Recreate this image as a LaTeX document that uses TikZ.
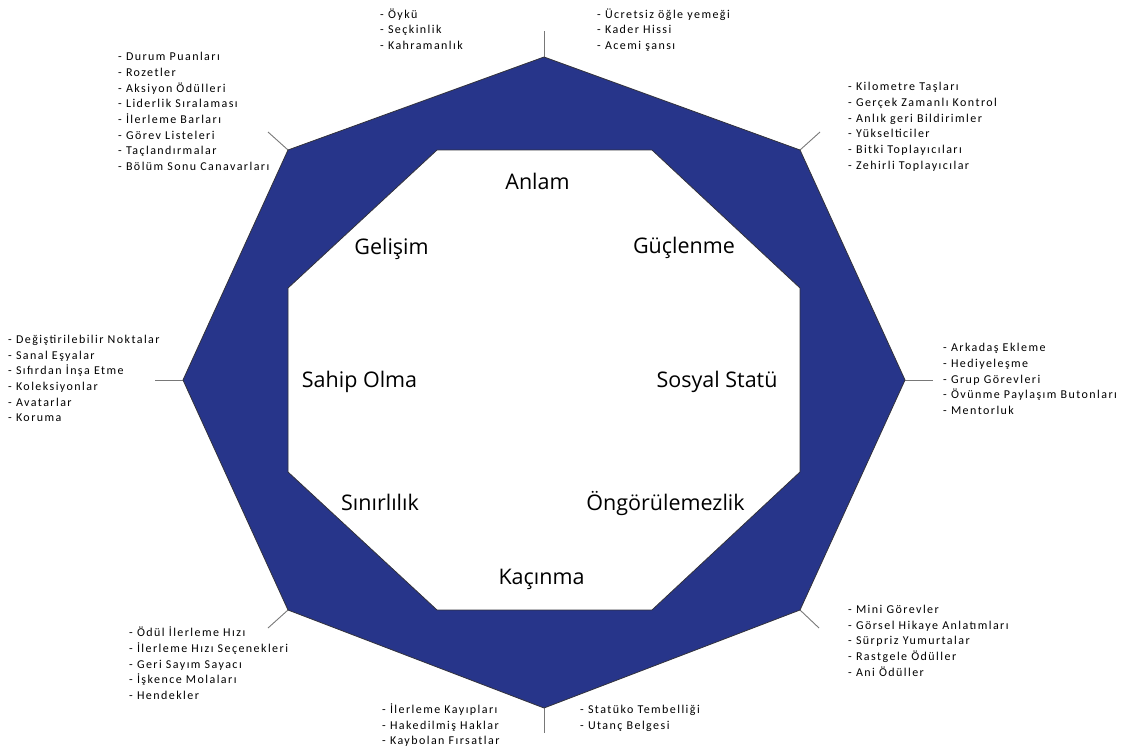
\documentclass[tikz,border=0pt]{standalone}
\usepackage{fontspec}
\setmainfont{Carlito}
\newfontfamily\labelfont{Open Sans}
\definecolor{octblue}{RGB}{39,53,138}
\definecolor{tickgray}{RGB}{120,120,120}
\definecolor{edgegray}{RGB}{50,50,60}
\begin{document}
\begin{tikzpicture}[x=1pt,y=-1pt,
  listtext/.style={anchor=north west, inner sep=0pt, align=left,
    font=\fontsize{12}{15.65}\selectfont\addfontfeature{LetterSpace=12}},
  biglabel/.style={anchor=base, inner sep=0pt, font=\labelfont\fontsize{21.5}{24}\selectfont},
  tickline/.style={draw=tickgray, line width=0.9pt},
  ring/.style={fill=octblue, draw=edgegray, line width=0.8pt, even odd rule}]
\useasboundingbox (0,0) rectangle (1132,751);
% outer vertices
\coordinate (oT)  at (544,57);
\coordinate (oTR) at (800,150);
\coordinate (oR)  at (905,380);
\coordinate (oBR) at (800,610);
\coordinate (oB)  at (544,708);
\coordinate (oBL) at (288,610);
\coordinate (oL)  at (183,380);
\coordinate (oTL) at (288,150);
% inner vertices
\coordinate (i1) at (437,150);
\coordinate (i2) at (652,150);
\coordinate (i3) at (800,288);
\coordinate (i4) at (800,472);
\coordinate (i5) at (652,610);
\coordinate (i6) at (437,610);
\coordinate (i7) at (288,472);
\coordinate (i8) at (288,288);
% tick ends
\coordinate (tT)  at (544,31);
\coordinate (tTR) at (820,132);
\coordinate (tR)  at (933,380);
\coordinate (tBR) at (819,628);
\coordinate (tB)  at (544,733);
\coordinate (tBL) at (268,628);
\coordinate (tL)  at (155,380);
\coordinate (tTL) at (268,132);

\draw[tickline] (oT) -- (tT);
\draw[tickline] (oTR) -- (tTR);
\draw[tickline] (oR) -- (tR);
\draw[tickline] (oBR) -- (tBR);
\draw[tickline] (oB) -- (tB);
\draw[tickline] (oBL) -- (tBL);
\draw[tickline] (oL) -- (tL);
\draw[tickline] (oTL) -- (tTL);

\path[ring] (oT) -- (oTR) -- (oR) -- (oBR) -- (oB) -- (oBL) -- (oL) -- (oTL) -- cycle
  (i1) -- (i2) -- (i3) -- (i4) -- (i5) -- (i6) -- (i7) -- (i8) -- cycle;

% main labels
\node[biglabel] (anlam) at (537.5,189.5) {Anlam};
\node[biglabel] (gelisim) at (391.5,255) {Gelişim};
\node[biglabel] (guclenme) at (684,253.5) {Güçlenme};
\node[biglabel] (sahip) at (359.5,387.5) {Sahip Olma};
\node[biglabel] (sosyal) at (717,387.5) {Sosyal Statü};
\node[biglabel] (sinir) at (380,510.5) {Sınırlılık};
\node[biglabel] (ongoru) at (665.5,510.5) {Öngörülemezlik};
\node[biglabel] (kacinma) at (541.5,584.5) {Kaçınma};

% lists
\node[listtext] (l1) at (380,7) {\strut- Öykü\\- Seçkinlik\\- Kahramanlık};
\node[listtext] (l2) at (597,7) {\strut- Ücretsiz öğle yemeği\\- Kader Hissi\\- Acemi şansı};
\node[listtext] (l3) at (118,49.7) {\strut- Durum Puanları\\- Rozetler\\- Aksiyon Ödülleri\\- Liderlik Sıralaması\\- İlerleme Barları\\- Görev Listeleri\\- Taçlandırmalar\\- Bölüm Sonu Canavarları};
\node[listtext] (l4) at (848,79.7) {\strut- Kilometre Taşları\\- Gerçek Zamanlı Kontrol\\- Anlık geri Bildirimler\\- Yükselticiler\\- Bitki Toplayıcıları\\- Zehirli Toplayıcılar};
\node[listtext] (l5) at (8,332.3) {\strut- Değiştirilebilir Noktalar\\- Sanal Eşyalar\\- Sıfırdan İnşa Etme\\- Koleksiyonlar\\- Avatarlar\\- Koruma};
\node[listtext] (l6) at (943,340.7) {\strut- Arkadaş Ekleme\\- Hediyeleşme\\- Grup Görevleri\\- Övünme Paylaşım Butonları\\- Mentorluk};
\node[listtext] (l7) at (129,625.7) {\strut- Ödül İlerleme Hızı\\- İlerleme Hızı Seçenekleri\\- Geri Sayım Sayacı\\- İşkence Molaları\\- Hendekler};
\node[listtext] (l8) at (848,602.3) {\strut- Mini Görevler\\- Görsel Hikaye Anlatımları\\- Sürpriz Yumurtalar\\- Rastgele Ödüller\\- Ani Ödüller};
\node[listtext] (l9) at (382,702.3) {\strut- İlerleme Kayıpları\\- Hakedilmiş Haklar\\- Kaybolan Fırsatlar};
\node[listtext] (l10) at (580,702.3) {\strut- Statüko Tembelliği\\- Utanç Belgesi};
\end{tikzpicture}
\end{document}
